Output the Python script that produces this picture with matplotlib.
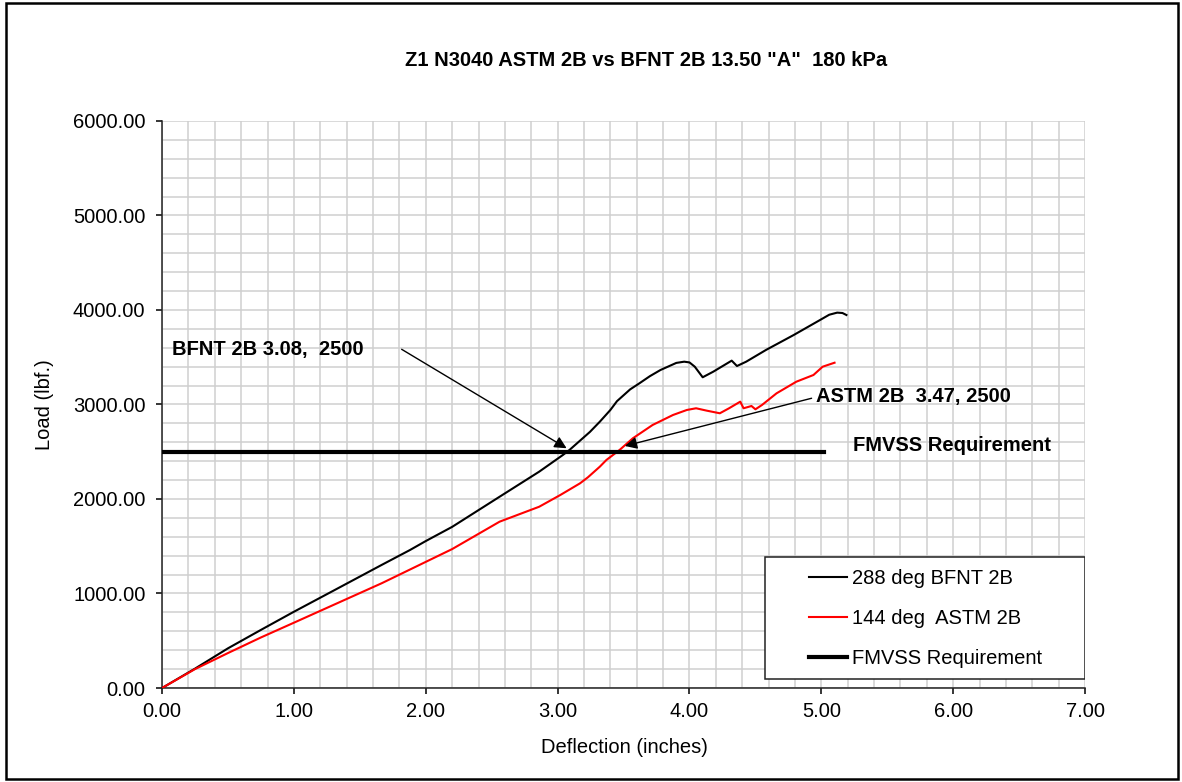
"""
Load vs deflection plot: BFNT 2B against ASTM 2B with the FMVSS 2500 lbf line.
"""

import matplotlib
matplotlib.use("Agg")
import matplotlib.pyplot as plt
from matplotlib.patches import Rectangle
from matplotlib.ticker import MultipleLocator, FormatStrFormatter

# ── Data ──────────────────────────────────────────────────────────────────────

bfnt_x = [0.0, 0.25, 0.5, 0.75, 1.0, 1.3, 1.665, 1.88, 2.0, 2.2, 2.56,
          2.86, 3.04, 3.09, 3.245, 3.32, 3.4, 3.45, 3.55, 3.62, 3.7, 3.78,
          3.9, 3.96, 4.0, 4.04, 4.1, 4.18, 4.32, 4.36, 4.43, 4.58, 4.79,
          4.99, 5.06, 5.12, 5.16, 5.19]
bfnt_y = [0, 205, 420, 615, 807, 1030, 1302, 1460, 1555, 1705, 2024,
          2289, 2466, 2519, 2710, 2818, 2942, 3035, 3160, 3224, 3300, 3365,
          3440, 3453, 3445, 3400, 3288, 3347, 3464, 3407, 3453, 3577, 3735,
          3894, 3950, 3972, 3968, 3947]

astm_x = [0.0, 0.25, 0.5, 0.75, 1.0, 1.665, 2.2, 2.56, 2.86, 3.02, 3.17,
          3.23, 3.32, 3.37, 3.47, 3.57, 3.72, 3.875, 3.98, 4.05, 4.13, 4.23,
          4.3, 4.385, 4.41, 4.47, 4.5, 4.55, 4.66, 4.81, 4.94, 5.01, 5.1]
astm_y = [0, 200, 370, 535, 691, 1108, 1470, 1760, 1918, 2042, 2166,
          2230, 2342, 2413, 2519, 2642, 2783, 2889, 2942, 2960, 2935, 2907,
          2960, 3030, 2960, 2984, 2949, 2995, 3118, 3241, 3312, 3400, 3442]

fmvss_x = [0.0, 5.02]
fmvss_y = [2500, 2500]

labels = ["288 deg BFNT 2B", "144 deg  ASTM 2B", "FMVSS Requirement"]
title = 'Z1 N3040 ASTM 2B vs BFNT 2B 13.50 "A"  180 kPa'

plt.rcParams["font.family"] = ["Liberation Sans", "DejaVu Sans"]
FS = 14.5

fig = plt.figure(figsize=(11.82, 7.82), dpi=100)
ax = fig.add_axes([0.1371, 0.1202, 0.7809, 0.7251])

# Outer frame round the whole chart.
fig.patches.append(Rectangle((6 / 1182, 3 / 782), 1172 / 1182, 776 / 782,
                             transform=fig.transFigure, fill=False,
                             edgecolor="black", lw=1.8))

ax.plot(bfnt_x, bfnt_y, color="black", lw=1.5, label=labels[0], zorder=3)
ax.plot(astm_x, astm_y, color="#ff0000", lw=1.5, label=labels[1], zorder=3)
ax.plot(fmvss_x, fmvss_y, color="black", lw=3, label=labels[2], zorder=3)

ax.set_xlim(0, 7)
ax.set_ylim(0, 6000)
ax.xaxis.set_major_locator(MultipleLocator(1))
ax.xaxis.set_minor_locator(MultipleLocator(0.2))
ax.yaxis.set_major_locator(MultipleLocator(1000))
ax.yaxis.set_minor_locator(MultipleLocator(200))
ax.xaxis.set_major_formatter(FormatStrFormatter("%.2f"))
ax.yaxis.set_major_formatter(FormatStrFormatter("%.2f"))
ax.grid(True, which="both", color="#cfcfcf", lw=1.1, zorder=0)
ax.set_axisbelow(True)
ax.tick_params(which="major", direction="out", length=4, width=1.1,
               labelsize=FS, colors="black")
ax.tick_params(axis="y", pad=8)
ax.tick_params(axis="x", pad=6)
ax.tick_params(which="minor", length=0)
for side in ("top", "right"):
    ax.spines[side].set_visible(False)
for side in ("left", "bottom"):
    ax.spines[side].set_color("#222222")
    ax.spines[side].set_linewidth(1.1)

fig.text(0.5465, 0.9156, title, ha="center", va="baseline",
         fontsize=FS, fontweight="bold")
fig.text(0.528, 0.0435, "Deflection (inches)", ha="center", va="center",
         fontsize=FS)
fig.text(0.038, 0.482, "Load (lbf.)", ha="center", va="center",
         rotation=90, fontsize=FS)

# Crossing callouts.
ax.annotate("", xy=(3.068, 2537), xytext=(1.817, 3584),
            arrowprops=dict(arrowstyle="-|>", color="black", lw=1.0,
                            mutation_scale=18, shrinkA=0, shrinkB=0))
ax.text(0.076, 3524, "BFNT 2B 3.08,  2500", ha="left", va="baseline",
        fontsize=FS, fontweight="bold")
ax.annotate("", xy=(3.51, 2561), xytext=(4.926, 3066),
            arrowprops=dict(arrowstyle="-|>", color="black", lw=1.0,
                            mutation_scale=18, shrinkA=0, shrinkB=0))
ax.text(4.958, 3030, "ASTM 2B  3.47, 2500", ha="left", va="baseline",
        fontsize=FS, fontweight="bold")
ax.text(5.24, 2503, "FMVSS Requirement", ha="left", va="baseline",
        fontsize=FS, fontweight="bold")

# Legend box drawn by hand so its padding can match the reference.
ax.add_patch(Rectangle((0.653, 0.0159), 0.347, 0.2152, transform=ax.transAxes,
                       facecolor="white", edgecolor="#222222", lw=1.1,
                       zorder=4))
leg = ax.legend(loc="center left", bbox_to_anchor=(0.701, 0.1226),
                frameon=False, fontsize=FS, handlelength=1.87,
                handletextpad=0.25, labelspacing=1.05, borderpad=0,
                borderaxespad=0)
leg.set_zorder(5)

fig.savefig("out.png", dpi=100)
